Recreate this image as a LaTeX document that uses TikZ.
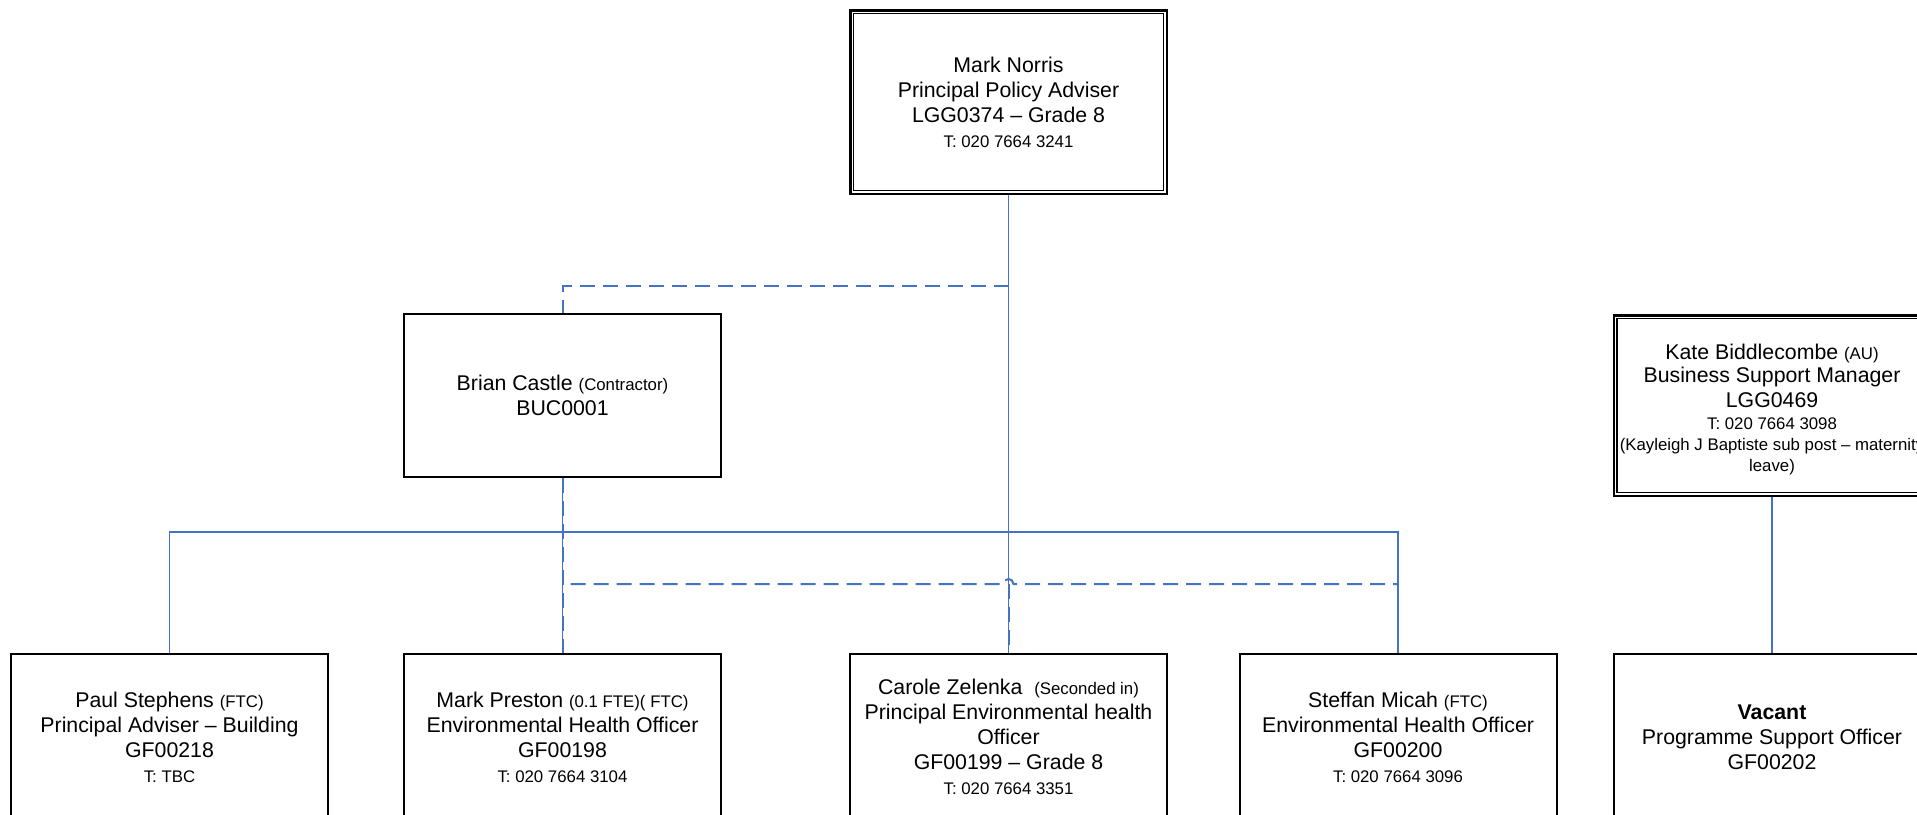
\documentclass[tikz,border=0pt]{standalone}
\usepackage{fontspec}
\setmainfont{Liberation Sans}
\definecolor{lineblue}{RGB}{68,114,196}
\newcommand\bigf{\fontsize{21.3}{25}\selectfont}
\newcommand\katef{\fontsize{21.3}{23.5}\selectfont}
\newcommand\smallf{\fontsize{16.8}{20}\selectfont}
\tikzset{
  box/.style={draw=black, line width=2pt, fill=white, minimum width=317pt,
    inner sep=0pt, align=center, font=\bigf},
  dblbox/.style={box, line width=2.5pt, minimum width=316.5pt},
  innerline/.style={draw=black, line width=1.8pt},
  txt/.style={inner sep=0pt, align=center, font=\katef},
  solidline/.style={draw=lineblue, line width=1.7pt},
  dashline/.style={draw=lineblue, line width=2pt, dash pattern=on 15pt off 8pt},
}
\begin{document}
\begin{tikzpicture}[x=1pt,y=-1pt]
\useasboundingbox (0,0) rectangle (1917,814);
\clip (0,0) rectangle (1917,814);

% boxes
\node[dblbox, minimum height=183.5pt] (norris) at (1008.5,102)
  {Mark Norris\\Principal Policy Adviser\\LGG0374 -- Grade 8\\{\smallf T: 020 7664 3241}};
\draw[innerline] ([shift={(4.5,4.5)}]norris.north west) rectangle ([shift={(-4.5,-4.5)}]norris.south east);

\node[box, minimum height=163pt] (brian) at (562.5,395.5)
  {Brian Castle {\smallf (Contractor)}\\BUC0001};

\node[dblbox, minimum height=180.5pt] (kate) at (1772,405.5) {};
\draw[innerline] ([shift={(4.5,4.5)}]kate.north west) rectangle ([shift={(-4.5,-4.5)}]kate.south east);
\node[txt] (katetext) at ([shift={(0,4)}]kate.center)
  {Kate Biddlecombe {\smallf (AU)}\\Business Support Manager\\[1pt]LGG0469\\[-1.5pt]{\smallf T: 020 7664 3098}\\[-2pt]{\smallf (Kayleigh J Baptiste sub post -- maternity}\\[-3pt]{\smallf leave)}};

\node[box, minimum height=166pt] (paul) at (169.5,737)
  {Paul Stephens {\smallf (FTC)}\\Principal Adviser -- Building\\GF00218\\{\smallf T: TBC}};
\node[box, minimum height=166pt] (preston) at (562.5,737)
  {Mark Preston {\smallf (0.1 FTE)( FTC)}\\Environmental Health Officer\\GF00198\\{\smallf T: 020 7664 3104}};
\node[box, minimum height=166pt] (carole) at (1008.5,737)
  {Carole Zelenka\ \ {\smallf (Seconded in)}\\Principal Environmental health\\Officer\\GF00199 -- Grade 8\\{\smallf T: 020 7664 3351}};
\node[box, minimum height=166pt] (steffan) at (1398,737)
  {Steffan Micah {\smallf (FTC)}\\Environmental Health Officer\\GF00200\\{\smallf T: 020 7664 3096}};
\node[box, minimum height=166pt] (vacant) at (1772,737)
  {\textbf{Vacant}\\Programme Support Officer\\GF00202};

% helper coordinates
\coordinate (bus) at (0,532);
\coordinate (dtop) at (0,286);
\coordinate (dlow) at (0,584);

% solid connectors
\draw[solidline] (norris.south) -- (carole.north);
\draw[solidline] (paul.north) -- (paul.north |- bus) -- (steffan.north |- bus) -- (steffan.north);
\draw[solidline, line width=1.2pt] (brian.south) -- (preston.north);
\draw[solidline] (kate.south) -- (vacant.north);

% dashed connectors
\draw[dashline] (norris.south |- dtop) -- (brian.north |- dtop) -- (brian.north);
\draw[dashline] (brian.south) -- (preston.north);
\draw[dashline, dash phase=15pt] (brian.south |- dlow) -- ([xshift=-5pt]carole.north |- dlow)
  arc[start angle=180, end angle=0, radius=5pt] -- (steffan.north |- dlow);
\draw[dashline] (carole.north |- dlow) -- (carole.north);
\end{tikzpicture}
\end{document}
